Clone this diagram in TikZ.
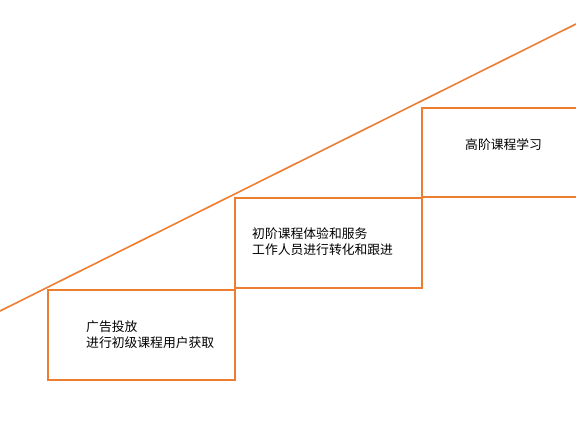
\documentclass[tikz,border=0pt]{standalone}
\usepackage{fontspec}
\newfontfamily\cjk{Noto Sans CJK SC}
\usetikzlibrary{positioning}
\definecolor{steporange}{HTML}{ED7D31}

\begin{document}
\begin{tikzpicture}[x=1pt,y=-1pt,
    stagebox/.style={draw=steporange,line width=2pt,minimum width=187pt,
        minimum height=89.5pt,inner sep=0pt,outer sep=0pt},
    stagetext/.style={font=\cjk\fontsize{12.8}{16.5}\selectfont,align=left,
        anchor=west,inner sep=0pt}]
    \useasboundingbox (0,0) rectangle (576,431);
    \clip (0,0) rectangle (576,431);
    % draw the steps
    \node[stagebox,anchor=north west] (s1) at (48,290) {};
    \node[stagebox,anchor=south west] (s2) at ([yshift=2.5pt]s1.north east) {};
    \node[stagebox,anchor=south west,minimum width=180pt] (s3) at ([yshift=1pt]s2.north east) {};
    % draw the rising line
    \coordinate (lo) at (0,311);
    \coordinate (hi) at (576,24);
    \draw[steporange,line width=1.6pt] (lo) -- (hi);
    % the texts
    \node[stagetext] (t1) at (86,334.7) {广告投放\\进行初级课程用户获取};
    \node[stagetext] (t2) at (252,241.5) {初阶课程体验和服务\\工作人员进行转化和跟进};
    \node[stagetext] (t3) at (465,145) {高阶课程学习};
\end{tikzpicture}
\end{document}
